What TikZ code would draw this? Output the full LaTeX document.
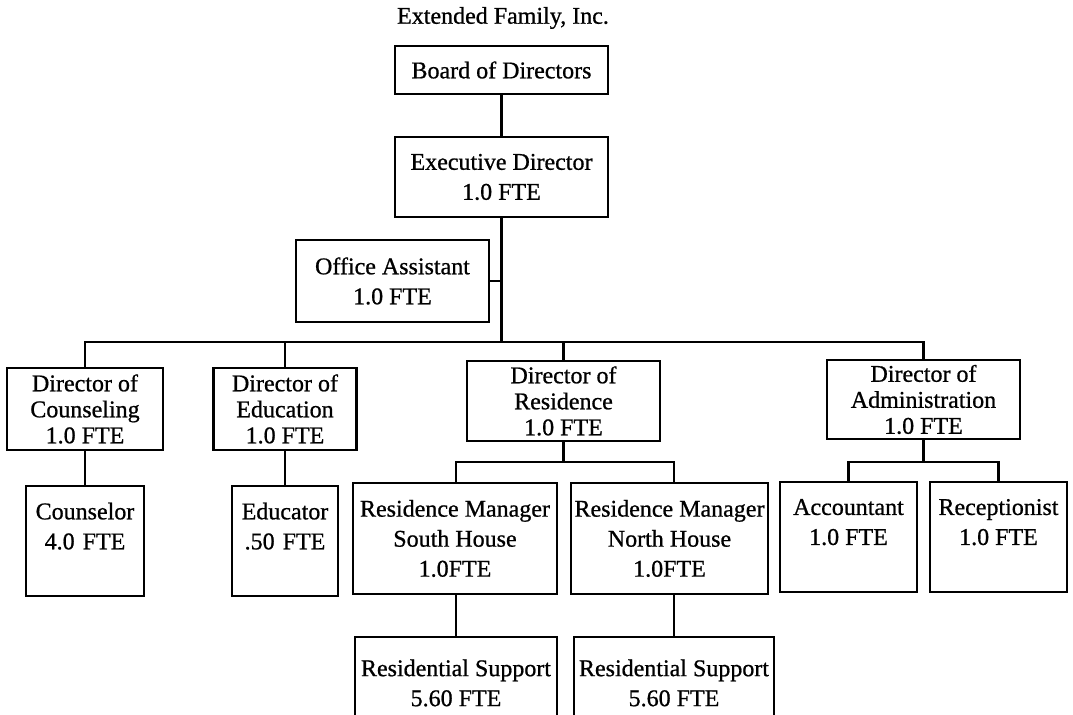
\documentclass[tikz,border=0pt]{standalone}
\usepackage{fontspec}
\setmainfont{Liberation Serif}[FakeBold=0.8]
\tikzset{
  box/.style={draw, line width=1.1pt, inner sep=0pt, align=center,
    font=\fontsize{12}{15}\selectfont},
  dirbox/.style={box, font=\fontsize{12}{13}\selectfont},
  link/.style={line width=1.1pt}
}
\begin{document}
\begin{tikzpicture}[x=0.5pt, y=-0.5pt]
    \useasboundingbox (0,0) rectangle (1073,715);
    % Titolo
    \node[font=\fontsize{12}{15}\selectfont] (title) at (503,18) {Extended Family, Inc.};
    % Vertice
    \node[box, minimum width=106.5pt, minimum height=24pt] (board) at (501.5,70) {Board of Directors};
    \node[box, minimum width=106.5pt, minimum height=40pt] (exec) at (501.5,177) {Executive Director\\1.0 FTE};
    \node[box, minimum width=96.5pt, minimum height=41pt] (office) at (392.5,281) {Office Assistant\\1.0 FTE};
    % Direttori
    \node[dirbox, minimum width=78pt, minimum height=41pt] (counsel) at (85,409) {Director of\\Counseling\\1.0 FTE};
    \node[dirbox, minimum width=71.5pt, minimum height=41pt] (educ) at (285,409) {Director of\\Education\\1.0 FTE};
    \node[dirbox, minimum width=96.5pt, minimum height=40pt] (resid) at (563.5,401) {Director of\\Residence\\1.0 FTE};
    \node[dirbox, minimum width=96.5pt, minimum height=39.5pt] (admin) at (923.5,399.5) {Director of\\Administration\\1.0 FTE};
    % Personale
    \node[box, minimum width=59pt, minimum height=55pt] (counselor) at (85,541) {Counselor\\4.0\,\,FTE\\[0pt]~};
    \node[box, minimum width=53pt, minimum height=55pt] (educator) at (285,541) {Educator\\.50\,\,FTE\\[0pt]~};
    \node[box, minimum width=102pt, minimum height=55.5pt] (rmsouth) at (455,538.5) {Residence Manager\\South House\\1.0FTE};
    \node[box, minimum width=98.5pt, minimum height=55.5pt] (rmnorth) at (669.5,538.5) {Residence Manager\\North House\\1.0FTE};
    \node[box, minimum width=68.5pt, minimum height=55pt] (account) at (848.5,537) {Accountant\\1.0 FTE\\[0pt]~};
    \node[box, minimum width=68.5pt, minimum height=55pt] (recept) at (998.5,537) {Receptionist\\1.0 FTE\\[0pt]~};
    \node[box, minimum width=101pt, minimum height=46pt] (supsouth) at (456,683) {Residential Support\\5.60 FTE};
    \node[box, minimum width=100pt, minimum height=46pt] (supnorth) at (674,683) {Residential Support\\5.60 FTE};
    % Collegamenti
    \coordinate (busy) at (0,342);
    \coordinate (resy) at (0,462);
    \draw[link] (board) -- (exec);
    \draw[link] (exec.south) -- (exec.south |- busy);
    \draw[link] (office.east) -- (exec.south |- office.east);
    \draw[link] (counsel.north) -- (counsel.north |- busy) -- (admin.north |- busy) -- (admin.north);
    \draw[link] (educ.north) -- (educ.north |- busy);
    \draw[link] (resid.north) -- (resid.north |- busy);
    \draw[link] (counsel) -- (counselor);
    \draw[link] (educ.south) -- (educator.north);
    \draw[link] (resid.south) -- (resid.south |- resy);
    \draw[link] (supsouth.north |- rmsouth.north) -- (supsouth.north |- resy) -- (supnorth.north |- resy) -- (supnorth.north |- rmnorth.north);
    \draw[link] (admin.south) -- (admin.south |- resy);
    \draw[link] (account.north) -- (account.north |- resy) -- (recept.north |- resy) -- (recept.north);
    \draw[link] (supsouth.north |- rmsouth.south) -- (supsouth.north);
    \draw[link] (supnorth.north |- rmnorth.south) -- (supnorth.north);
\end{tikzpicture}
\end{document}
